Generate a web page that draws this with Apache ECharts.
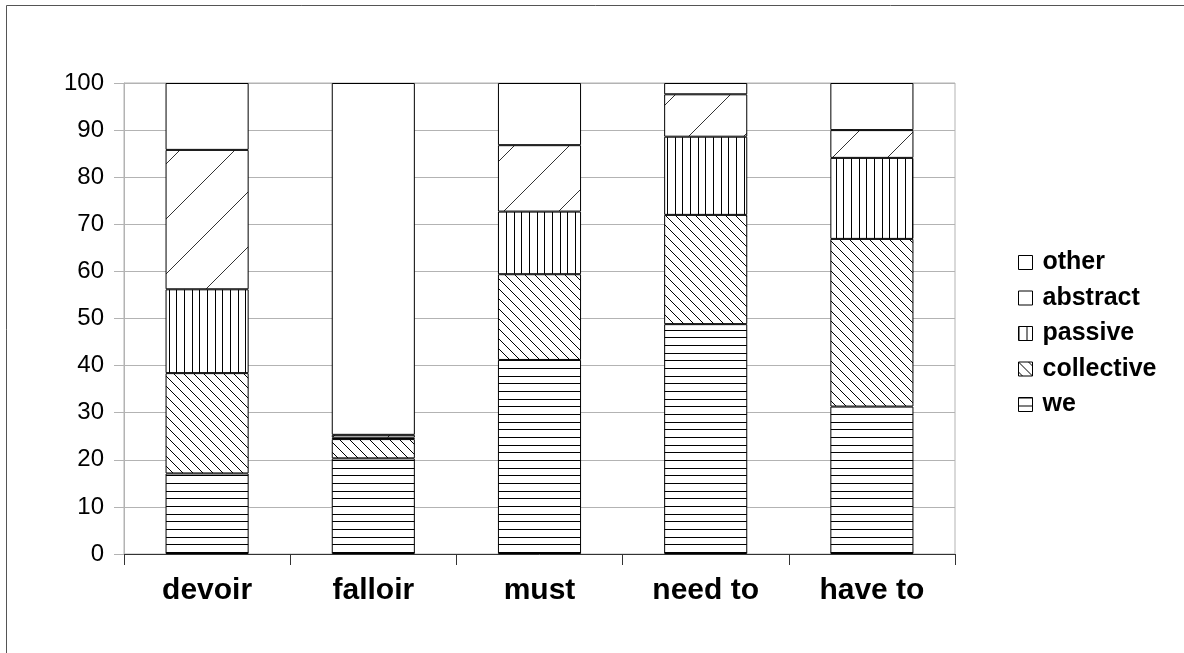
<!DOCTYPE html>
<html>
<head>
<meta charset="utf-8">
<script src="https://cdn.jsdelivr.net/npm/echarts@6/dist/echarts.min.js"></script>
<style>
html,body{margin:0;padding:0;background:#fff;}
#chart{width:1184px;height:653px;}
</style>
</head>
<body>
<div id="chart"></div>
<script>
const categories = ['devoir', 'falloir', 'must', 'need to', 'have to'];
const seriesNames = ['we', 'collective', 'passive', 'abstract', 'other'];
const weValues = [17.1, 20.3, 41.2, 48.8, 31.3];
const collectiveValues = [21.3, 4.1, 18.2, 23.2, 35.6];
const passiveValues = [17.8, 0.3, 13.3, 16.6, 17.2];
const abstractValues = [29.6, 0.6, 14.1, 9.0, 5.9];
const otherValues = [14.2, 74.7, 13.2, 2.4, 10.0];
const yTicks = [0, 10, 20, 30, 40, 50, 60, 70, 80, 90, 100];

function makeTile(w, h, draw) {
  const c = document.createElement('canvas');
  c.width = w; c.height = h;
  const ctx = c.getContext('2d');
  ctx.fillStyle = '#fff';
  ctx.fillRect(0, 0, w, h);
  ctx.strokeStyle = '#000';
  ctx.lineWidth = 1;
  draw(ctx, w, h);
  return { image: c, repeat: 'repeat' };
}
const patHoriz = makeTile(8, 23, (ctx, w) => {
  [0.5, 8.5, 15.5].forEach(y => { ctx.beginPath(); ctx.moveTo(0, y); ctx.lineTo(w, y); ctx.stroke(); });
});
const patVert = makeTile(23, 8, (ctx, w, h) => {
  [0.5, 8.5, 15.5].forEach(x => { ctx.beginPath(); ctx.moveTo(x, 0); ctx.lineTo(x, h); ctx.stroke(); });
});
const patBack = makeTile(10, 10, (ctx, w, h) => {
  ctx.beginPath(); ctx.moveTo(-2, -2); ctx.lineTo(w + 2, h + 2); ctx.stroke();
  ctx.beginPath(); ctx.moveTo(-2, h - 2); ctx.lineTo(2, h + 2); ctx.stroke();
  ctx.beginPath(); ctx.moveTo(w - 2, -2); ctx.lineTo(w + 2, 2); ctx.stroke();
});
const patFwd = makeTile(55, 55, (ctx, w, h) => {
  ctx.strokeStyle = '#333';
  ctx.beginPath(); ctx.moveTo(-2, h + 2); ctx.lineTo(w + 2, -2); ctx.stroke();
});
const fills = { we: patHoriz, collective: patBack, passive: patVert, abstract: patFwd, other: '#ffffff' };
const valuesByName = { we: weValues, collective: collectiveValues, passive: passiveValues, abstract: abstractValues, other: otherValues };

const chart = echarts.init(document.getElementById('chart'), null, { renderer: 'canvas' });
const font = 'Liberation Sans, Arial, Helvetica, sans-serif';
chart.setOption({
  animation: false,
  backgroundColor: '#fff',
  graphic: [{
    type: 'rect', shape: { x: 6.5, y: 5.5, width: 1400, height: 1400 },
    style: { fill: 'none', stroke: '#555', lineWidth: 1 }, silent: true
  }],
  grid: { left: 124, right: 229, top: 83, bottom: 99, show: true, borderColor: '#b3b3b3', borderWidth: 1 },
  legend: {
    orient: 'vertical', left: 1013, top: 245,
    data: ['other', 'abstract', 'passive', 'collective', 'we'],
    itemWidth: 14, itemHeight: 14, itemGap: 10.5,
    icon: 'rect',
    itemStyle: { borderColor: '#000', borderWidth: 1 },
    textStyle: { fontFamily: font, fontWeight: 'bold', fontSize: 25, color: '#000', lineHeight: 25, padding: [0, 0, 0, 5] }
  },
  xAxis: {
    type: 'category', data: categories,
    axisLine: { lineStyle: { color: '#333', width: 1 } },
    axisTick: { show: true, length: 11, lineStyle: { color: '#333' } },
    axisLabel: { fontFamily: font, fontWeight: 'bold', fontSize: 30, color: '#000', margin: 22 }
  },
  yAxis: {
    type: 'value', min: 0, max: 100, interval: 10,
    axisLine: { show: true, lineStyle: { color: '#b3b3b3' } },
    axisTick: { show: true, length: 10, lineStyle: { color: '#b3b3b3' } },
    splitLine: { lineStyle: { color: '#b3b3b3' } },
    axisLabel: { fontFamily: font, fontSize: 24, color: '#000', margin: 20,
      formatter: v => (yTicks.indexOf(v) >= 0 ? String(v) : '') }
  },
  series: seriesNames.map(n => ({
    name: n, type: 'bar', stack: 'total', barWidth: '50%',
    data: valuesByName[n],
    itemStyle: { color: fills[n], borderColor: '#000', borderWidth: 1 }
  }))
});
</script>
</body>
</html>
